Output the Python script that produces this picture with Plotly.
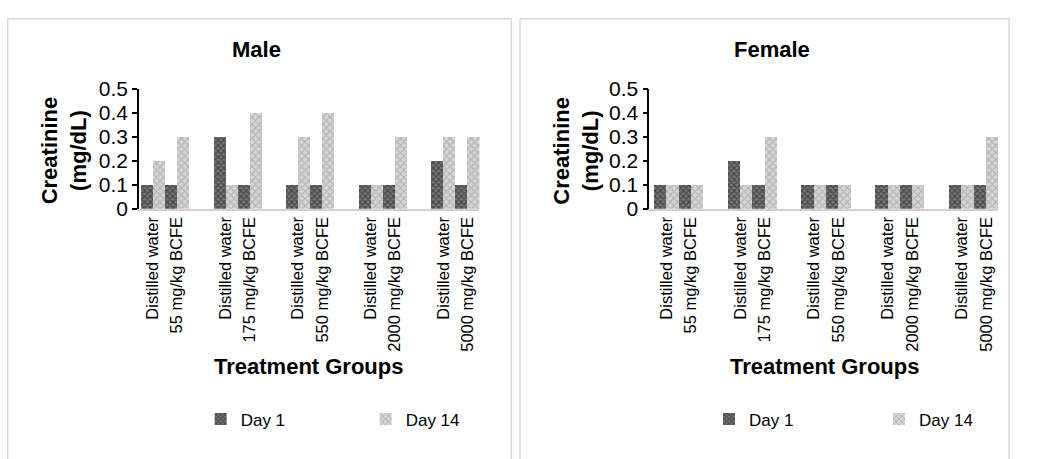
import plotly.graph_objects as go

# Treatment categories (each dose paired with its distilled-water control)
categories = [
    "Distilled water", "55 mg/kg BCFE",
    "Distilled water", "175 mg/kg BCFE",
    "Distilled water", "550 mg/kg BCFE",
    "Distilled water", "2000 mg/kg BCFE",
    "Distilled water", "5000 mg/kg BCFE",
]
# Category slots: pairs separated by one empty slot
positions = [0, 1, 3, 4, 6, 7, 9, 10, 12, 13]

# Creatinine (mg/dL)
male_day1 = [0.1, 0.1, 0.3, 0.1, 0.1, 0.1, 0.1, 0.1, 0.2, 0.1]
male_day14 = [0.2, 0.3, 0.1, 0.4, 0.3, 0.4, 0.1, 0.3, 0.3, 0.3]
female_day1 = [0.1, 0.1, 0.2, 0.1, 0.1, 0.1, 0.1, 0.1, 0.1, 0.1]
female_day14 = [0.1, 0.1, 0.1, 0.3, 0.1, 0.1, 0.1, 0.1, 0.1, 0.3]

y_ticks = [0, 0.1, 0.2, 0.3, 0.4, 0.5]
y_ticktext = ["0", "0.1", "0.2", "0.3", "0.4", "0.5"]

W, H = 1049, 459
FONT = "Arial, Liberation Sans, sans-serif"

day1_pattern = dict(shape="x", size=4, solidity=0.5, fgcolor="#151515", bgcolor="#767676")
day14_pattern = dict(shape="x", size=5, solidity=0.4, fgcolor="#8e8e8e", bgcolor="#d6d6d6")


def px_x(v):
    return v / W


def px_y(v):
    return 1 - v / H


fig = go.Figure()

panels = [
    dict(name="Male", d1=male_day1, d14=male_day14, xa="x", ya="y", legend="legend"),
    dict(name="Female", d1=female_day1, d14=female_day14, xa="x2", ya="y2", legend="legend2"),
]

for p in panels:
    fig.add_trace(go.Bar(
        x=positions, y=p["d1"], name="Day 1", xaxis=p["xa"], yaxis=p["ya"],
        legend=p["legend"], offsetgroup="d1",
        marker=dict(color="#767676", line=dict(width=0), pattern=day1_pattern),
    ))
    fig.add_trace(go.Bar(
        x=positions, y=p["d14"], name="Day 14", xaxis=p["xa"], yaxis=p["ya"],
        legend=p["legend"], offsetgroup="d14",
        marker=dict(color="#d6d6d6", line=dict(width=0), pattern=day14_pattern),
    ))

y_dom = [px_y(207), px_y(81)]

xaxis_common = dict(
    tickmode="array", tickvals=positions, ticktext=categories, tickangle=-90,
    tickfont=dict(family=FONT, size=16.5, color="#000"),
    showline=True, linecolor="#d0d0d0", linewidth=1.5,
    ticks="", showgrid=False, zeroline=False, fixedrange=True,
)
yaxis_common = dict(
    range=[0, 0.5], tickmode="array", tickvals=y_ticks, ticktext=y_ticktext,
    tickfont=dict(family=FONT, size=21, color="#000"),
    showline=True, linecolor="#000", linewidth=1.5,
    ticks="outside", ticklen=5, tickwidth=1.5, tickcolor="#000",
    showgrid=False, zeroline=False, domain=y_dom, fixedrange=True,
)

fig.update_layout(
    width=W, height=H, margin=dict(l=0, r=0, t=0, b=0),
    paper_bgcolor="white", plot_bgcolor="white",
    barmode="group", bargap=0, bargroupgap=0,
    font=dict(family=FONT, color="#000"),
    xaxis=dict(xaxis_common, domain=[px_x(144), px_x(497)], range=[-0.58, 13.5], anchor="y"),
    yaxis=dict(yaxis_common, anchor="x"),
    xaxis2=dict(xaxis_common, domain=[px_x(673), px_x(1035)], range=[-0.7, 13.5], anchor="y2"),
    yaxis2=dict(yaxis_common, anchor="x2"),
    legend=dict(
        orientation="h", x=px_x(208), y=px_y(429), xanchor="left", yanchor="middle",
        entrywidth=120, entrywidthmode="pixels", font=dict(family=FONT, size=17, color="#000"),
        bgcolor="rgba(0,0,0,0)", itemwidth=30,
    ),
    legend2=dict(
        orientation="h", x=px_x(735), y=px_y(429), xanchor="left", yanchor="middle",
        entrywidth=125, entrywidthmode="pixels", font=dict(family=FONT, size=17, color="#000"),
        bgcolor="rgba(0,0,0,0)", itemwidth=30,
    ),
    showlegend=True,
)

# Panel frames
for x0, x1 in [(8, 530), (539, 1046)]:
    fig.add_shape(
        type="rect", xref="paper", yref="paper",
        x0=px_x(x0), x1=px_x(x1), y0=-0.05, y1=px_y(7),
        line=dict(color="#d9d9d9", width=1.5), fillcolor="rgba(0,0,0,0)", layer="below",
    )

title_font = dict(family=FONT, size=22, color="#000")
annotations = [
    ("<b>Male</b>", 266, 39, 0),
    ("<b>Female</b>", 800, 39, 0),
    ("<b>Creatinine<br>(mg/dL)</b>", 66, 146, -90),
    ("<b>Creatinine<br>(mg/dL)</b>", 597, 146, -90),
    ("<b>Treatment Groups</b>", 320, 373, 0),
    ("<b>Treatment Groups</b>", 855, 373, 0),
]
for text, x, y, ang in annotations:
    fig.add_annotation(
        text=text, x=px_x(x), y=px_y(y), xref="paper", yref="paper",
        xanchor="center", yanchor="middle", showarrow=False, textangle=ang,
        font=title_font, align="center",
    )

# Page without body margin or scrollbars so the figure fills the window exactly
page_style = (
    "document.documentElement.style.margin='0';"
    "document.body.style.margin='0';"
    "document.body.style.overflow='hidden';"
)
fig.write_html("out.html", post_script=page_style)
